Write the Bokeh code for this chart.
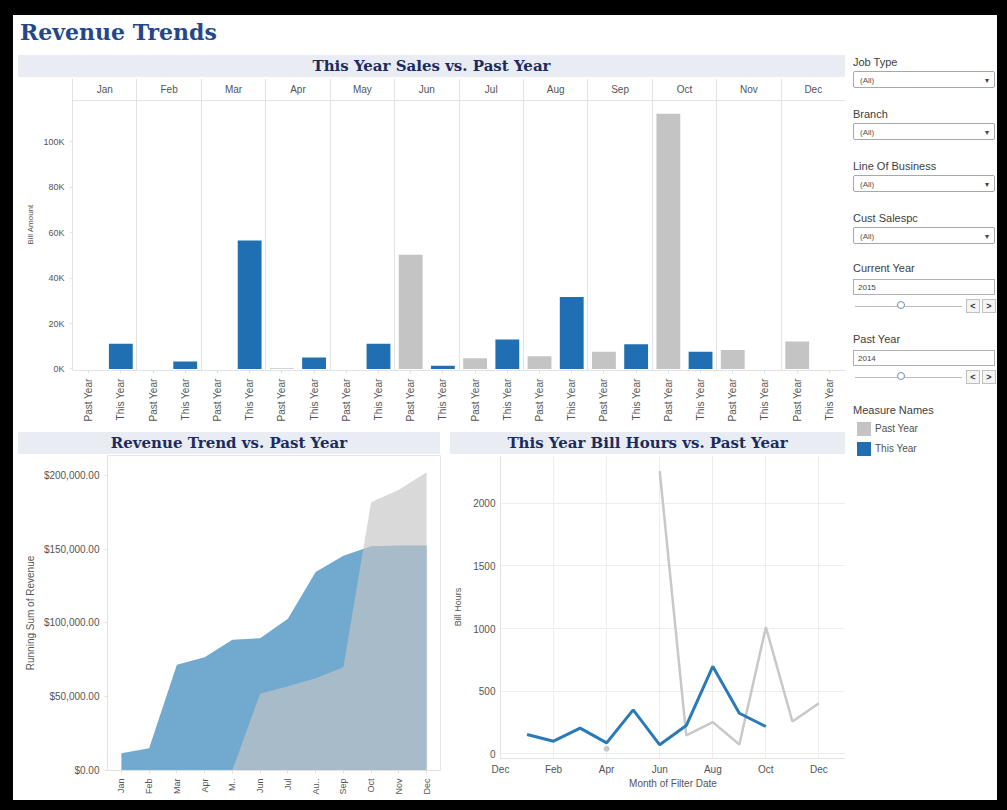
import math
from bokeh.plotting import figure
from bokeh.layouts import column, row
from bokeh.models import Div, Range1d, FixedTicker, NumeralTickFormatter, Span
from bokeh.embed import file_html
from bokeh.resources import INLINE
from bokeh.core.properties import value

# ---------------- data ----------------
months = ["Jan", "Feb", "Mar", "Apr", "May", "Jun", "Jul", "Aug", "Sep", "Oct", "Nov", "Dec"]
measures = ["Past Year", "This Year"]
past_year_sales = [0, 0, 0, 300, 0, 50200, 4700, 5600, 7600, 112200, 8300, 12100]
this_year_sales = [11100, 3300, 56500, 5100, 11100, 1400, 13000, 31600, 10900, 7600, 0, 0]
sales_tick_values = [0, 20000, 40000, 60000, 80000, 100000]
sales_tick_labels = ["0K", "20K", "40K", "60K", "80K", "100K"]

trend_month_labels = ["Jan", "Feb", "Mar", "Apr", "M..", "Jun", "Jul", "Au..", "Sep", "Oct", "Nov", "Dec"]
this_year_running = [11700, 15100, 71600, 76800, 88500, 89600, 102800, 134400, 145500, 152000, 152400, 152400]
past_year_running = [0, 0, 0, 300, 300, 52000, 57100, 62500, 70000, 181800, 190200, 202100]
trend_tick_values = [0, 50000, 100000, 150000, 200000]

hours_month_ticks = [-1, 1, 3, 5, 7, 9, 11]
hours_month_labels = ["Dec", "Feb", "Apr", "Jun", "Aug", "Oct", "Dec"]
this_year_hours = [155, 102, 206, 89, 352, 73, 227, 698, 325, 219, None, None]
past_year_hours = [None, None, None, 41, None, 2255, 148, 254, 76, 1011, 259, 405]
hours_tick_values = [0, 500, 1000, 1500, 2000]

filter_names = ["Job Type", "Branch", "Line Of Business", "Cust Salespc"]
year_controls = [("Current Year", "2015"), ("Past Year", "2014")]

# ---------------- style ----------------
BLUE = "#1F6FB2"
GRAY = "#C4C4C4"
LINE_BLUE = "#2A7AB8"
LINE_GRAY = "#C8C8C8"
AREA_BLUE = "#72A9CE"
GRID = "#E2E2E2"
BAND = "#E9EDF3"
NAVY = "#1C2B5E"
TITLE_BLUE = "#25478A"
SANS = "Liberation Sans"
SERIF = "DejaVu Serif"


def style_axis(ax, size="10px"):
    ax.axis_line_color = GRID
    ax.major_tick_line_color = GRID
    ax.minor_tick_line_color = None
    ax.major_tick_in = 0
    ax.major_tick_out = 3
    ax.major_label_text_font = SANS
    ax.major_label_text_font_size = size
    ax.major_label_text_color = "#555555"
    ax.axis_label_text_font = SANS
    ax.axis_label_text_font_size = "9px"
    ax.axis_label_text_font_style = "normal"
    ax.axis_label_text_color = "#555555"
    ax.axis_label_standoff = 5


def band(text, width, inner_width, top=0):
    return Div(
        text=(f'<div style="margin-left:5px;margin-top:{top}px;width:{inner_width}px;height:22px;'
              f'background:{BAND};text-align:center;line-height:22px;font-family:\'{SERIF}\';'
              f'font-weight:bold;font-size:15px;color:{NAVY};white-space:nowrap;">{text}</div>'),
        width=width, height=22 + top, margin=0)


# ---------------- top bar chart ----------------
p1 = figure(width=832, height=348, x_range=Range1d(0, 12), y_range=Range1d(-660, 127700),
            output_backend="svg", toolbar_location=None,
            min_border_left=59, min_border_right=0, min_border_top=1, min_border_bottom=55)
p1.outline_line_color = None
past_x = [i + 0.25 for i in range(len(months))]
this_x = [i + 0.75 for i in range(len(months))]
p1.vbar(x=past_x, top=past_year_sales, bottom=0, width=0.37, fill_color=GRAY, line_color=None)
p1.vbar(x=this_x, top=this_year_sales, bottom=0, width=0.37, fill_color=BLUE, line_color=None)
p1.text(x=[i + 0.5 for i in range(len(months))], y=[122900] * len(months), text=months,
        text_font=value(SANS), text_font_size="10px", text_color="#555555",
        text_align="center", text_baseline="middle")
p1.add_layout(Span(location=118000, dimension="width", line_color=GRID, line_width=1))
p1.xgrid.ticker = FixedTicker(ticks=list(range(len(months) + 1)))
p1.xgrid.grid_line_color = GRID
p1.ygrid.grid_line_color = None
style_axis(p1.xaxis[0])
style_axis(p1.yaxis[0], "9px")
bar_ticks = sorted(past_x + this_x)
p1.xaxis.ticker = FixedTicker(ticks=bar_ticks)
overrides = {}
for i in range(len(months)):
    overrides[past_x[i]] = measures[0]
    overrides[this_x[i]] = measures[1]
p1.xaxis.major_label_overrides = overrides
p1.xaxis.major_label_orientation = math.pi / 2
p1.yaxis.ticker = FixedTicker(ticks=sales_tick_values)
p1.yaxis.major_label_overrides = dict(zip(sales_tick_values, sales_tick_labels))
p1.yaxis.axis_label = "Bill Amount"
p1.yaxis.axis_label_text_font_size = "8px"

# ---------------- bottom-left area chart ----------------
p2 = figure(width=432, height=346, x_range=Range1d(-0.5, 11.5), y_range=Range1d(0, 213400),
            output_backend="svg", toolbar_location=None,
            min_border_left=94, min_border_right=5, min_border_top=1, min_border_bottom=30)
p2.outline_line_color = "#E6E6E6"
xs = list(range(len(trend_month_labels)))
p2.varea(x=xs, y1=[0] * len(xs), y2=this_year_running, fill_color=AREA_BLUE, fill_alpha=1.0)
p2.varea(x=xs, y1=[0] * len(xs), y2=past_year_running, fill_color="#C4C4C4", fill_alpha=0.65)
p2.xgrid.grid_line_color = None
p2.ygrid.grid_line_color = None
style_axis(p2.xaxis[0], "9px")
style_axis(p2.yaxis[0], "10px")
p2.xaxis.ticker = FixedTicker(ticks=xs)
p2.xaxis.major_label_overrides = dict(zip(xs, trend_month_labels))
p2.xaxis.major_label_orientation = math.pi / 2
p2.yaxis.ticker = FixedTicker(ticks=trend_tick_values)
p2.yaxis.formatter = NumeralTickFormatter(format="$0,0.00")
p2.yaxis.axis_label = "Running Sum of Revenue"
p2.yaxis.axis_label_text_font_size = "10px"

# ---------------- bottom-right line chart ----------------
p3 = figure(width=400, height=346, x_range=Range1d(-1, 12), y_range=Range1d(-36, 2380),
            output_backend="svg", toolbar_location=None,
            min_border_left=55, min_border_right=0, min_border_top=1, min_border_bottom=42)
p3.outline_line_color = None
hx = list(range(len(this_year_hours)))
nan = float("nan")
past_vals = [nan if v is None else v for v in past_year_hours]
this_vals = [nan if v is None else v for v in this_year_hours]
p3.line(hx, past_vals, line_color=LINE_GRAY, line_width=2.5)
iso_x, iso_y = [], []
for i, v in enumerate(past_year_hours):
    prev_none = i == 0 or past_year_hours[i - 1] is None
    next_none = i == len(past_year_hours) - 1 or past_year_hours[i + 1] is None
    if v is not None and prev_none and next_none:
        iso_x.append(i)
        iso_y.append(v)
p3.scatter(iso_x, iso_y, size=5, color=LINE_GRAY)
p3.line(hx, this_vals, line_color=LINE_BLUE, line_width=3)
p3.xgrid.grid_line_color = "#EDEDED"
p3.ygrid.grid_line_color = "#EDEDED"
style_axis(p3.xaxis[0], "10px")
style_axis(p3.yaxis[0], "10px")
p3.xaxis.major_tick_out = 0
p3.yaxis.major_tick_out = 0
p3.xaxis.ticker = FixedTicker(ticks=hours_month_ticks)
p3.xaxis.major_label_overrides = dict(zip(hours_month_ticks, hours_month_labels))
p3.yaxis.ticker = FixedTicker(ticks=hours_tick_values)
p3.xaxis.axis_label = "Month of Filter Date"
p3.xaxis.axis_label_standoff = 0
p3.yaxis.axis_label = "Bill Hours"
p3.yaxis.axis_label_standoff = 7
p3.xaxis.axis_label_text_font_size = "10px"

# ---------------- filter panel ----------------
def ab(left, top, inner, style=""):
    return f'<div style="position:absolute;left:{left}px;top:{top}px;white-space:nowrap;{style}">{inner}</div>'

parts = []
lab = "font-size:11px;color:#404040;"
for i, name in enumerate(filter_names):
    t = 52 * i
    parts.append(ab(8, t, name, lab))
    parts.append(ab(8, t + 16,
                    '<span style="position:absolute;left:6px;top:0;font-size:8px;line-height:17px;color:#555;">(All)</span>'
                    '<span style="position:absolute;right:5px;top:0;font-size:8px;line-height:17px;color:#444;">&#9662;</span>',
                    "width:142px;height:17px;border:1px solid #A8A8A8;border-radius:2px;background:#fff;"))
for j, (name, yr) in enumerate(year_controls):
    t = 206 + 71 * j
    parts.append(ab(8, t, name, lab))
    parts.append(ab(8, t + 18,
                    f'<span style="position:absolute;left:4px;top:0;font-size:8px;line-height:16px;color:#444;">{yr}</span>',
                    "width:142px;height:16px;border:1px solid #B0B0B0;background:#fff;"))
    parts.append(ab(10, t + 45, "", "width:107px;height:1px;background:#BBBBBB;"))
    parts.append(ab(52, t + 40, "", "width:8px;height:8px;border:1.5px solid #6F8DB5;border-radius:50%;background:#fff;"))
    parts.append(ab(121, t + 38,
                    '<span style="display:block;width:12px;height:12px;line-height:12px;text-align:center;font-size:9px;font-weight:bold;color:#333;">&lt;</span>',
                    "border:1px solid #C0C0C0;background:#F4F4F4;"))
    parts.append(ab(137, t + 38,
                    '<span style="display:block;width:12px;height:12px;line-height:12px;text-align:center;font-size:9px;font-weight:bold;color:#333;">&gt;</span>',
                    "border:1px solid #C0C0C0;background:#F4F4F4;"))
parts.append(ab(8, 348, "Measure Names", lab))
for k, (mname, col) in enumerate(zip(measures, [GRAY, BLUE])):
    t = 367 + 20 * k
    parts.append(ab(12, t, "", f"width:14px;height:14px;background:{col};"))
    parts.append(ab(30, t, mname, "font-size:10px;line-height:14px;color:#505050;"))

panel = Div(text=(f'<div style="position:relative;width:152px;height:745px;font-family:\'{SANS}\',sans-serif;">'
                  + "".join(parts) + "</div>"), width=152, height=745, margin=0)

# ---------------- layout ----------------
header = Div(text=(f'<div style="padding-left:7px;padding-top:3px;font-family:\'{SERIF}\';font-weight:bold;'
                   f'font-size:22px;line-height:28px;color:{TITLE_BLUE};white-space:nowrap;">Revenue Trends</div>'),
             width=984, height=40, margin=0)

left_col = column(
    band("This Year Sales vs. Past Year", 832, 827),
    p1,
    row(column(band("Revenue Trend vs. Past Year", 432, 422, top=7), p2),
        column(band("This Year Bill Hours vs. Past Year", 400, 395, top=7), p3)),
)
layout = column(header, row(left_col, panel), margin=(15, 10, 10, 13),
                styles={"background-color": "#ffffff"})

html = file_html(layout, INLINE, title="Revenue Trends")
html = html.replace("</head>", "<style>html, body { background-color: #000000; }</style></head>", 1)
open("out.html", "w").write(html)
